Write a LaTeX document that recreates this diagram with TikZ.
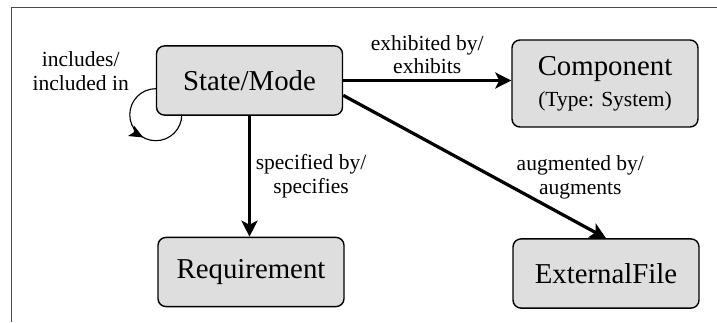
\documentclass[tikz,border=0pt]{standalone}
\usepackage{fontspec}
\setmainfont{Liberation Serif}
\usepackage{xcolor}
\definecolor{dedede}{HTML}{dedede}
\definecolor{4a4a4a}{HTML}{4a4a4a}
\usepackage{tikz}
\usetikzlibrary{arrows.meta}
\usetikzlibrary{positioning}
\usetikzlibrary{decorations.markings}

\begin{document}
\begin{tikzpicture}[
            box/.style={draw, line width=1pt, fill=dedede, rounded corners=0.2cm, minimum width=4.65cm, minimum height=1.73cm, align=center, font=\fontsize{20.5}{24}\selectfont},
            rel/.style={line width=2.3pt, -{Stealth[length=0.4cm, width=0.4cm, inset=0.1cm]}},
            lbl/.style={align=center, font=\fontsize{15.3}{17}\selectfont},
            loopline/.style={line width=0.8pt, postaction={decorate, decoration={markings, mark=at position 0.56 with {\arrow{Stealth[length=0.35cm, width=0.3cm, inset=0.08cm]}}}}}
        ]
            \useasboundingbox (0, 0) rectangle (17.925, 8.05);
            \draw[4a4a4a, line width=0.6pt] (0.275, 0) -- (0.275, 7.875) -- (17.925, 7.875);

            \node[box] (sm) at (6.2375, 6.0375) {State/Mode};
            \node[box, minimum height=2.175cm] (comp) at (15.125, 5.9625) {Component\\[-2pt]{\fontsize{15.3}{18}\selectfont (Type: System)}};
            \node[box] (req) at (6.275, 1.25) {Requirement};
            \node[box] (ext) at (15.15, 1.2125) {ExternalFile};

            \draw[rel] (sm.east) -- (sm.east -| comp.west) node[lbl, midway, above] (exh) {exhibited by/\\exhibits};
            \draw[rel] (sm.south) -- (sm.south |- req.north) node[lbl, midway, right] (spec) {specified by/\\specifies};
            \draw[rel] (sm.-9) -- (ext.north) node[lbl, pos=0.72, anchor=south west, xshift=-0.55cm, yshift=-0.18cm] (aug) {augmented by/\\augments};

            \draw[loopline] (sm.185) arc[start angle=90, end angle=360, radius=0.65cm];
            \node[lbl, left=0.55cm of sm.west, yshift=0.24cm] (incl) {includes/\\included in};
        \end{tikzpicture}
\end{document}
